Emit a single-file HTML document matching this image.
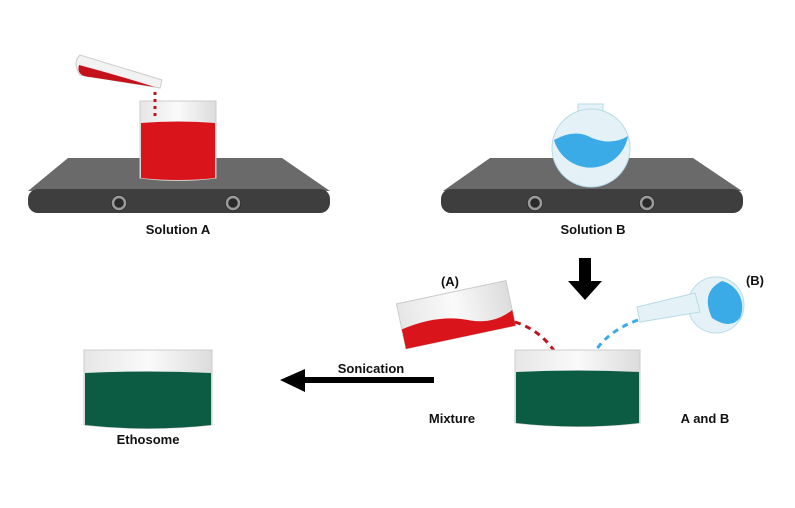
<!DOCTYPE html>
<html><head><style>
html,body{margin:0;padding:0;background:#fff;}
svg{display:block;}
text{font-family:"Liberation Sans",sans-serif;font-weight:bold;font-size:13px;fill:#111;}
</style></head><body>
<svg width="795" height="508" viewBox="0 0 795 508" xmlns="http://www.w3.org/2000/svg">
<defs>
<linearGradient id="glass" x1="0" x2="1"><stop offset="0" stop-color="#e6e6e6"/><stop offset="0.5" stop-color="#fafafa"/><stop offset="1" stop-color="#dcdcdc"/></linearGradient>
</defs>
<!-- Plate A -->
<polygon points="68,158 282,158 330,191 28,191" fill="#6a6a6a"/>
<rect x="28" y="189" width="302" height="24" rx="10" fill="#3e3e3e"/>
<circle cx="119" cy="203" r="8" fill="#2a2a2a"/><circle cx="119" cy="203" r="6" fill="none" stroke="#9a9a9a" stroke-width="2.5"/>
<circle cx="233" cy="203" r="8" fill="#2a2a2a"/><circle cx="233" cy="203" r="6" fill="none" stroke="#9a9a9a" stroke-width="2.5"/>
<!-- Beaker A -->
<path d="M140,101 L216,101 L216,178 Q178,183 140,178 Z" fill="url(#glass)" stroke="#ccc"/>
<path d="M141,123 Q178,120 215,123 L215,178 Q178,182 141,178 Z" fill="#d9141a"/>
<path d="M155,92 L155,118" stroke="#c0141a" stroke-width="3" stroke-dasharray="3,4"/>
<!-- Pipette -->
<path d="M80,55 Q72,62 80,75 L160,88 L162,80 Z" fill="#f2f2f2" stroke="#ccc"/>
<path d="M79,65 Q76,76 90,77 L155,87 Q120,76 79,65 Z" fill="#c5121a"/>
<text x="178" y="234" text-anchor="middle">Solution A</text>
<!-- Plate B -->
<polygon points="490,158 693,158 742,191 443,191" fill="#6a6a6a"/>
<rect x="441" y="189" width="302" height="24" rx="10" fill="#3e3e3e"/>
<circle cx="535" cy="203" r="8" fill="#2a2a2a"/><circle cx="535" cy="203" r="6" fill="none" stroke="#9a9a9a" stroke-width="2.5"/>
<circle cx="647" cy="203" r="8" fill="#2a2a2a"/><circle cx="647" cy="203" r="6" fill="none" stroke="#9a9a9a" stroke-width="2.5"/>
<!-- Flask B -->
<rect x="578" y="104" width="25" height="34" fill="#e4f2f7" stroke="#b8dbe6"/>
<circle cx="591" cy="148" r="39" fill="#e4f2f7" stroke="#b8dbe6"/>
<path d="M554,140 Q575,128 592,138 Q612,146 628,136 A38,38 0 0 1 554,140 Z" fill="#3aabe6"/>
<text x="593" y="234" text-anchor="middle">Solution B</text>
<!-- Down arrow -->
<rect x="579" y="258" width="12" height="24" fill="#000"/>
<polygon points="568,281 602,281 585,300" fill="#000"/>
<!-- Tilted beaker (A) -->
<g transform="rotate(-12 455 315)">
<path d="M400,292 L512,292 L512,338 L400,338 Z" fill="url(#glass)" stroke="#ccc"/>
<path d="M400,318 Q440,310 470,324 Q492,332 512,322 L512,338 L400,338 Z" fill="#d9141a"/>
</g>
<path d="M515,322 Q540,330 555,352" stroke="#c0141a" stroke-width="3" fill="none" stroke-dasharray="6,5"/>
<text x="450" y="286" text-anchor="middle">(A)</text>
<!-- Tilted flask (B) -->
<circle cx="716" cy="305" r="28" fill="#e4f2f7" stroke="#b8dbe6"/>
<path d="M722,281 Q700,292 712,318 Q730,330 740,318 A27,27 0 0 0 722,281 Z" fill="#3aabe6"/>
<polygon points="637,307 695,293 700,312 640,322" fill="#e4f2f7" stroke="#b8dbe6"/>
<path d="M638,320 Q610,330 596,350" stroke="#3aabe6" stroke-width="3" fill="none" stroke-dasharray="6,5"/>
<text x="755" y="285" text-anchor="middle">(B)</text>
<!-- Mixture beaker -->
<path d="M515,350 L640,350 L640,423 Q578,430 515,423 Z" fill="url(#glass)" stroke="#ccc"/>
<path d="M516,372 Q578,369 639,372 L639,423 Q578,430 516,423 Z" fill="#0c5c44"/>
<text x="452" y="423" text-anchor="middle">Mixture</text>
<text x="705" y="423" text-anchor="middle">A and B</text>
<!-- Sonication arrow -->
<rect x="300" y="377" width="134" height="6" fill="#000"/>
<polygon points="280,380 305,369 305,392" fill="#000"/>
<text x="371" y="373" text-anchor="middle">Sonication</text>
<!-- Ethosome beaker -->
<path d="M84,350 L212,350 L212,425 Q148,432 84,425 Z" fill="url(#glass)" stroke="#ccc"/>
<path d="M85,373 Q148,370 211,373 L211,425 Q148,432 85,425 Z" fill="#0c5c44"/>
<text x="148" y="444" text-anchor="middle">Ethosome</text>
</svg>
</body></html>
